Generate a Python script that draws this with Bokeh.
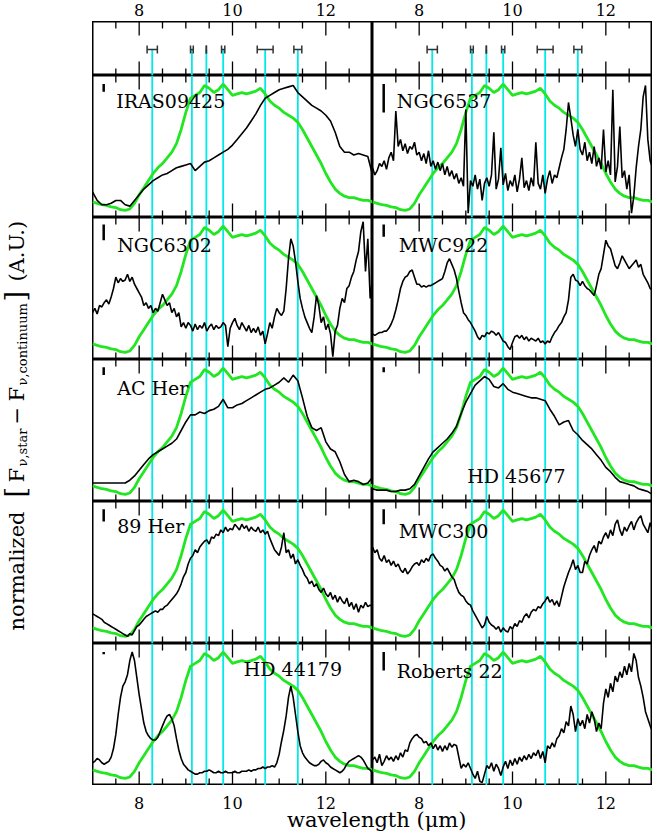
from bokeh.plotting import figure
from bokeh.layouts import row, column
from bokeh.models import Range1d, ColumnDataSource
from bokeh.core.properties import value
from bokeh.embed import file_html
from bokeh.resources import INLINE

FONT = "DejaVu Serif"

# ---------------- data ----------------
WAVE = [7.0, 7.1, 7.2, 7.3, 7.4, 7.5, 7.6, 7.7, 7.8, 7.9,
        8.0, 8.1, 8.2, 8.3, 8.4, 8.5, 8.6, 8.7, 8.8, 8.9,
        9.0, 9.1, 9.2, 9.3, 9.4, 9.5, 9.6, 9.7, 9.8, 9.9,
        10.0, 10.1, 10.2, 10.3, 10.4, 10.5, 10.6, 10.7, 10.8, 10.9,
        11.0, 11.1, 11.2, 11.3, 11.4, 11.5, 11.6, 11.7, 11.8, 11.9,
        12.0, 12.1, 12.2, 12.3, 12.4, 12.5, 12.6, 12.7, 12.8, 12.9,
        13.0]

WAVE_FINE = [7.00, 7.05, 7.10, 7.15, 7.20, 7.25, 7.30, 7.35, 7.40, 7.45,
             7.50, 7.55, 7.60, 7.65, 7.70, 7.75, 7.80, 7.85, 7.90, 7.95,
             8.00, 8.05, 8.10, 8.15, 8.20, 8.25, 8.30, 8.35, 8.40, 8.45,
             8.50, 8.55, 8.60, 8.65, 8.70, 8.75, 8.80, 8.85, 8.90, 8.95,
             9.00, 9.05, 9.10, 9.15, 9.20, 9.25, 9.30, 9.35, 9.40, 9.45,
             9.50, 9.55, 9.60, 9.65, 9.70, 9.75, 9.80, 9.85, 9.90, 9.95,
             10.00, 10.05, 10.10, 10.15, 10.20, 10.25, 10.30, 10.35, 10.40, 10.45,
             10.50, 10.55, 10.60, 10.65, 10.70, 10.75, 10.80, 10.85, 10.90, 10.95,
             11.00, 11.05, 11.10, 11.15, 11.20, 11.25, 11.30, 11.35, 11.40, 11.45,
             11.50, 11.55, 11.60, 11.65, 11.70, 11.75, 11.80, 11.85, 11.90, 11.95,
             12.00, 12.05, 12.10, 12.15, 12.20, 12.25, 12.30, 12.35, 12.40, 12.45,
             12.50, 12.55, 12.60, 12.65, 12.70, 12.75, 12.80, 12.85, 12.90, 12.95,
             13.00]

# template (green) profile, same in every panel
TEMPLATE = [.11, .10, .09, .085, .075, .07, .055, .05, .06, .10,
            .16, .21, .26, .31, .35, .38, .42, .46, .52, .62,
            .74, .84, .86, .88, .93, .91, .88, .90, .94, .90,
            .86, .87, .88, .87, .88, .89, .91, .87, .82, .79,
            .77, .74, .72, .70, .67, .62, .56, .50, .44, .38,
            .31, .25, .20, .17, .15, .14, .14, .13, .12, .12,
            .11]

IRAS09425 = [.18, .12, .09, .09, .10, .12, .12, .09, .08, .12,
             .16, .20, .23, .26, .28, .30, .31, .33, .35, .36,
             .37, .38, .33, .36, .39, .40, .42, .44, .46, .48,
             .51, .55, .59, .63, .68, .73, .79, .84, .86, .88,
             .90, .91, .92, .93, .88, .85, .82, .79, .77, .75,
             .72, .68, .60, .50, .46, .46, .44, .45, .44, .43,
             .30]

AC_HER = [.13, .13, .13, .13, .13, .13, .13, .13, .15, .18,
          .22, .26, .30, .33, .35, .37, .39, .41, .44, .50,
          .56, .61, .61, .63, .62, .64, .65, .67, .72, .66,
          .66, .68, .69, .71, .73, .75, .77, .79, .80, .82,
          .84, .87, .84, .89, .85, .73, .60, .52, .50, .52,
          .42, .37, .35, .28, .19, .14, .15, .14, .12, .13,
          .17]

HD45677 = [.09, .08, .08, .08, .07, .07, .08, .08, .09, .12,
           .18, .24, .30, .35, .38, .41, .44, .48, .53, .62,
           .70, .76, .82, .85, .88, .86, .81, .80, .83, .79,
           .77, .76, .75, .74, .73, .73, .72, .71, .65, .60,
           .54, .56, .57, .50, .47, .43, .40, .37, .33, .29,
           .24, .21, .17, .14, .13, .12, .11, .09, .08, .07,
           .05]

NGC6537 = [.35, .30, .33, .38, .36, .40, .34, .42, .46, .40,
           .75, .50, .55, .47, .52, .45, .50, .48, .53, .44,
           .46, .40, .45, .38, .47, .36, .40, .34, .39, .33,
           .38, .30, .36, .29, .33, .27, .31, .24, .28, .22,
           .76, .03, .26, .22, .30, .20, .27, .12, .24, .28,
           .22, .30, .60, .20, .27, .49, .23, .31, .19, .26,
           .22, .30, .18, .27, .42, .21, .26, .19, .28, .22,
           .53, .24, .20, .30, .17, .27, .33, .24, .30, .28,
           .35, .42, .48, .62, .81, .70, .58, .50, .62, .48,
           .44, .53, .40, .46, .38, .50, .36, .42, .34, .62,
           .32, .40, .30, .90, .25, .36, .64, .28, .33, .20,
           .30, .03, .15, .35, .50, .62, .85, .93, .55, .40,
           .35]

NGC6302 = [.33, .36, .32, .38, .37, .40, .42, .39, .44, .50,
           .58, .54, .57, .55, .56, .60, .55, .58, .53, .50,
           .47, .44, .38, .40, .36, .38, .33, .36, .34, .40,
           .46, .42, .38, .40, .33, .36, .30, .33, .23, .26,
           .22, .26, .24, .20, .25, .21, .24, .22, .26, .20,
           .23, .25, .21, .24, .22, .23, .26, .24, .09, .22,
           .26, .29, .24, .21, .26, .23, .20, .24, .19, .22,
           .19, .23, .17, .20, .11, .18, .26, .22, .30, .36,
           .33, .31, .34, .50, .71, .85, .80, .69, .55, .43,
           .36, .30, .26, .22, .19, .30, .45, .38, .26, .30,
           .21, .25, .18, .02, .20, .24, .36, .43, .40, .50,
           .52, .58, .62, .70, .76, .90, .97, .62, .85, .43,
           .57]

MWC922 = [.18, .17, .18, .19, .19, .20, .20, .22, .25, .29,
          .35, .42, .50, .55, .58, .59, .62, .63, .58, .53,
          .53, .51, .52, .51, .52, .52, .53, .54, .55, .56,
          .57, .62, .68, .71, .67, .63, .57, .48, .40, .33,
          .31, .28, .26, .23, .20, .16, .14, .17, .16, .19,
          .18, .20, .19, .17, .19, .16, .13, .12, .09, .07,
          .12, .16, .17, .15, .17, .14, .16, .13, .15, .14,
          .13, .15, .12, .13, .11, .13, .12, .16, .19, .21,
          .24, .26, .30, .33, .42, .58, .60, .56, .55, .52,
          .55, .52, .50, .49, .47, .45, .52, .60, .64, .74,
          .84, .80, .78, .72, .66, .64, .68, .73, .70, .67,
          .64, .66, .68, .70, .65, .67, .60, .57, .54, .50,
          .49]

HER89 = [.21, .20, .19, .18, .17, .15, .14, .13, .12, .11,
         .10, .09, .08, .07, .06, .05, .07, .06, .09, .12,
         .13, .15, .17, .19, .20, .21, .22, .23, .22, .24,
         .24, .26, .27, .29, .31, .33, .35, .38, .42, .47,
         .50, .56, .60, .62, .66, .64, .68, .70, .72, .73,
         .70, .75, .74, .77, .76, .80, .78, .82, .79, .81,
         .80, .84, .82, .80, .84, .81, .83, .79, .82, .80,
         .79, .82, .78, .80, .77, .79, .74, .70, .66, .64,
         .62, .68, .78, .64, .66, .60, .63, .56, .59, .55,
         .52, .48, .46, .42, .44, .40, .42, .38, .36, .39,
         .35, .33, .36, .31, .34, .29, .33, .30, .28, .32,
         .26, .29, .24, .28, .22, .27, .25, .29, .26, .27,
         .26]

MWC300 = [.68, .64, .66, .60, .58, .62, .57, .59, .55, .58,
          .54, .56, .52, .50, .53, .49, .51, .54, .56, .57,
          .55, .59, .57, .60, .58, .62, .63, .60, .58, .55,
          .54, .51, .53, .50, .47, .45, .40, .36, .34, .33,
          .30, .28, .27, .23, .20, .17, .14, .11, .13, .19,
          .15, .13, .12, .10, .12, .08, .11, .09, .08, .12,
          .10, .14, .12, .16, .15, .19, .21, .18, .22, .24,
          .23, .26, .25, .28, .30, .33, .29, .31, .27, .30,
          .26, .33, .40, .45, .50, .54, .59, .52, .55, .50,
          .50, .58, .56, .62, .66, .69, .64, .72, .70, .75,
          .78, .74, .80, .76, .84, .87, .80, .76, .82, .79,
          .83, .86, .80, .85, .88, .90, .84, .81, .78, .85,
          .80]

HD44179 = [.16, .17, .19, .18, .16, .15, .16, .17, .20, .26,
           .36, .50, .62, .70, .73, .78, .88, .94, .88, .76,
           .64, .54, .44, .38, .35, .33, .32, .32, .34, .38,
           .42, .46, .49, .50, .47, .42, .33, .25, .19, .15,
           .13, .11, .10, .09, .08, .08, .09, .09, .10, .10,
           .11, .10, .09, .09, .10, .09, .09, .10, .09, .09,
           .09, .10, .09, .09, .10, .10, .10, .11, .10, .11,
           .11, .12, .12, .13, .12, .13, .13, .14, .13, .16,
           .22, .31, .39, .49, .62, .70, .62, .50, .38, .28,
           .23, .20, .18, .16, .15, .14, .14, .15, .17, .18,
           .16, .15, .13, .12, .11, .10, .09, .10, .12, .15,
           .17, .18, .19, .20, .21, .20, .18, .15, .12, .11,
           .09]

ROBERTS22 = [.18, .20, .16, .22, .14, .17, .21, .18, .20, .17,
             .21, .18, .23, .20, .25, .24, .30, .33, .35, .36,
             .34, .33, .30, .31, .28, .30, .26, .29, .25, .28,
             .24, .28, .25, .30, .27, .29, .28, .20, .12, .15,
             .13, .16, .12, .08, .05, .10, .03, .02, .08, .14,
             .12, .16, .10, .15, .12, .07, .13, .17, .12, .18,
             .14, .19, .15, .20, .17, .21, .18, .22, .19, .23,
             .21, .25, .19, .24, .16, .28, .26, .30, .27, .33,
             .35, .40, .37, .45, .42, .56, .50, .38, .47, .42,
             .46, .40, .50, .44, .52, .47, .38, .44, .40, .58,
             .68, .62, .72, .66, .77, .73, .80, .76, .84, .78,
             .86, .80, .93, .88, .76, .70, .62, .52, .47, .42,
             .38]

# panel names, noise bars (top, bottom), label anchor (x, baseline y)
NAMES = ["IRAS09425", "NGC6537", "NGC6302", "MWC922", "AC Her",
         "HD 45677", "89 Her", "MWC300", "HD 44179", "Roberts 22"]
FLUXES = [IRAS09425, NGC6537, NGC6302, MWC922, AC_HER,
          HD45677, HER89, MWC300, HD44179, ROBERTS22]
GRIDS = [WAVE, WAVE_FINE, WAVE_FINE, WAVE_FINE, WAVE,
         WAVE, WAVE_FINE, WAVE_FINE, WAVE_FINE, WAVE_FINE]
NOISE_TOP = [.94, .94, .95, .95, .945, .945, .945, .945, .94, .94]
NOISE_BOT = [.885, .74, .84, .865, .89, .91, .86, .84, .925, .81]
NOISE_X = 7.24
LABEL_X = [7.51, 7.52, 7.53, 7.56, 7.53, 9.03, 7.53, 7.56, 10.24, 7.52]
LABEL_Y = [.77, .77, .76, .76, .75, .13, .775, .74, .77, .755]

# feature positions (cyan) and their uncertainties
FEATURES = [8.28, 9.13, 9.44, 9.80, 10.70, 11.40]
FEATURE_ERR = [0.11, 0.03, 0.0, 0.035, 0.17, 0.085]
FEATURE_Y = 0.48

MAJOR_TICKS = [8, 10, 12]
MINOR_TICKS = [7.5, 8.5, 9, 9.5, 10.5, 11, 11.5, 12.5]
TICK_LABELS = ["8", "10", "12"]
X_LABEL = "wavelength (\u03bcm)"

GREEN = "#22e622"
CYAN = "#00eaea"

YLAB_W = 92
PW = 280
TOP_STRIP_H = 21
TOP_H = 54
ROW_H = 142
BOT_STRIP_H = 50
PAGE_H = TOP_STRIP_H + TOP_H + 5 * ROW_H + BOT_STRIP_H
COL_SPAN = 6  # wavelength span of one column (7..13)
BASE_SHIFT = 0.37  # renderer places "alphabetic" text lower by ~this fraction of font size

NAME_PX = 19
TICK_PX = 16
XLAB_PX = 21


def base_fig(w, h, xr=(7, 13), yr=(0, 1)):
    p = figure(width=w, height=h, x_range=Range1d(*xr), y_range=Range1d(*yr),
               output_backend="svg", toolbar_location=None, min_border=0,
               x_axis_type=None, y_axis_type=None, title=None)
    p.outline_line_color = None
    p.background_fill_color = "white"
    p.border_fill_color = "white"
    return p


def add_ticks(p, h):
    maj = 14.0 / h
    mnr = 7.0 / h
    nM = len(MAJOR_TICKS)
    nm = len(MINOR_TICKS)
    kw = dict(line_color="black", line_width=1.3)
    p.segment(x0=MAJOR_TICKS, y0=[0] * nM, x1=MAJOR_TICKS, y1=[maj] * nM, **kw)
    p.segment(x0=MAJOR_TICKS, y0=[1] * nM, x1=MAJOR_TICKS, y1=[1 - maj] * nM, **kw)
    p.segment(x0=MINOR_TICKS, y0=[0] * nm, x1=MINOR_TICKS, y1=[mnr] * nm, **kw)
    p.segment(x0=MINOR_TICKS, y0=[1] * nm, x1=MINOR_TICKS, y1=[1 - mnr] * nm, **kw)


def frame_box(p):
    p.outline_line_color = "black"
    p.outline_line_width = 2


def top_panel():
    p = base_fig(PW, TOP_H)
    frame_box(p)
    n = len(FEATURES)
    p.segment(x0=FEATURES, y0=[0] * n, x1=FEATURES, y1=[FEATURE_Y] * n,
              line_color=CYAN, line_width=1.8)
    lo = [c - e for c, e in zip(FEATURES, FEATURE_ERR)]
    hi = [c + e for c, e in zip(FEATURES, FEATURE_ERR)]
    cap = 4.0 / TOP_H
    ek = dict(line_color="#333333", line_width=1.5)
    p.segment(x0=lo, y0=[FEATURE_Y] * n, x1=hi, y1=[FEATURE_Y] * n, **ek)
    p.segment(x0=lo, y0=[FEATURE_Y - cap] * n, x1=lo, y1=[FEATURE_Y + cap] * n, **ek)
    p.segment(x0=hi, y0=[FEATURE_Y - cap] * n, x1=hi, y1=[FEATURE_Y + cap] * n, **ek)
    add_ticks(p, TOP_H)
    return p


def data_panel(i):
    p = base_fig(PW, ROW_H)
    frame_box(p)
    n = len(FEATURES)
    p.segment(x0=FEATURES, y0=[0] * n, x1=FEATURES, y1=[1] * n,
              line_color=CYAN, line_width=1.8)
    p.line(WAVE, TEMPLATE, line_color=GREEN, line_width=2.8)
    p.line(GRIDS[i], FLUXES[i], line_color="black", line_width=1.6)
    p.segment(x0=[NOISE_X], y0=[NOISE_BOT[i]], x1=[NOISE_X], y1=[NOISE_TOP[i]],
              line_color="black", line_width=2.5)
    ly = LABEL_Y[i] + BASE_SHIFT * NAME_PX / ROW_H
    p.text(x=[LABEL_X[i]], y=[ly], text=[NAMES[i]],
           text_font=value(FONT), text_font_size=value("%dpx" % NAME_PX),
           text_align="left", text_baseline="alphabetic", text_color="black")
    add_ticks(p, ROW_H)
    return p


# tick positions for strips spanning both columns (7..13 and 13..19)
tx = MAJOR_TICKS + [t + COL_SPAN for t in MAJOR_TICKS]
tl = TICK_LABELS + TICK_LABELS
tick_shift = BASE_SHIFT * TICK_PX

# top strip with the upper tick labels; wanted baseline 15 px from the top
top_strip = base_fig(2 * PW, TOP_STRIP_H, xr=(7, 7 + 2 * COL_SPAN), yr=(0, TOP_STRIP_H))
top_strip.text(x=tx, y=[TOP_STRIP_H - 15 + tick_shift] * len(tx), text=tl, text_font=value(FONT),
               text_font_size=value("%dpx" % TICK_PX), text_align="center",
               text_baseline="alphabetic", text_color="black")

# bottom strip with lower tick labels (baseline 23 px below frame) and the x-axis title (42 px)
bot_strip = base_fig(2 * PW, BOT_STRIP_H, xr=(7, 7 + 2 * COL_SPAN), yr=(0, BOT_STRIP_H))
bot_strip.text(x=tx, y=[BOT_STRIP_H - 23 + tick_shift] * len(tx), text=tl, text_font=value(FONT),
               text_font_size=value("%dpx" % TICK_PX), text_align="center",
               text_baseline="alphabetic", text_color="black")
bot_strip.text(x=[7 + COL_SPAN + 0.09], y=[BOT_STRIP_H - 42 + BASE_SHIFT * XLAB_PX], text=[X_LABEL],
               text_font=value(FONT), text_font_size=value("%dpx" % XLAB_PX), text_align="center",
               text_baseline="alphabetic", text_color="black")

left_children = [top_panel()]
right_children = [top_panel()]
for r in range(5):
    left_children.append(data_panel(2 * r))
    right_children.append(data_panel(2 * r + 1))

grid = row(column(*left_children, spacing=0), column(*right_children, spacing=0), spacing=0)
center = column(top_strip, grid, bot_strip, spacing=0)

# y-axis label (rotated), pieces positioned in a narrow side figure
ylab = base_fig(YLAB_W, PAGE_H, xr=(0, YLAB_W), yr=(0, PAGE_H))
piece_top = [630, 497, 482, 466, 424, 401, 385, 301, 281]
piece_base = [24, 25, 24, 27, 24, 24, 27, 25, 24]
piece_px = [21, 27, 21, 13, 21, 21, 13, 27, 21]
ylab_src = ColumnDataSource(dict(
    x=[b - BASE_SHIFT * s for b, s in zip(piece_base, piece_px)],
    y=[PAGE_H - t for t in piece_top],
    text=["normalized", "[", "F", "\u03bd,star", "\u2212", "F", "\u03bd,continuum", "]", "(A.U.)"],
    size=["%dpx" % s for s in piece_px],
))
ylab.text(x="x", y="y", text="text", text_font_size="size", source=ylab_src,
          angle=1.5708, text_font=value(FONT), text_align="left",
          text_baseline="alphabetic", text_color="black")

page = row(ylab, center, spacing=0)

open("out.html", "w").write(file_html(page, INLINE))
